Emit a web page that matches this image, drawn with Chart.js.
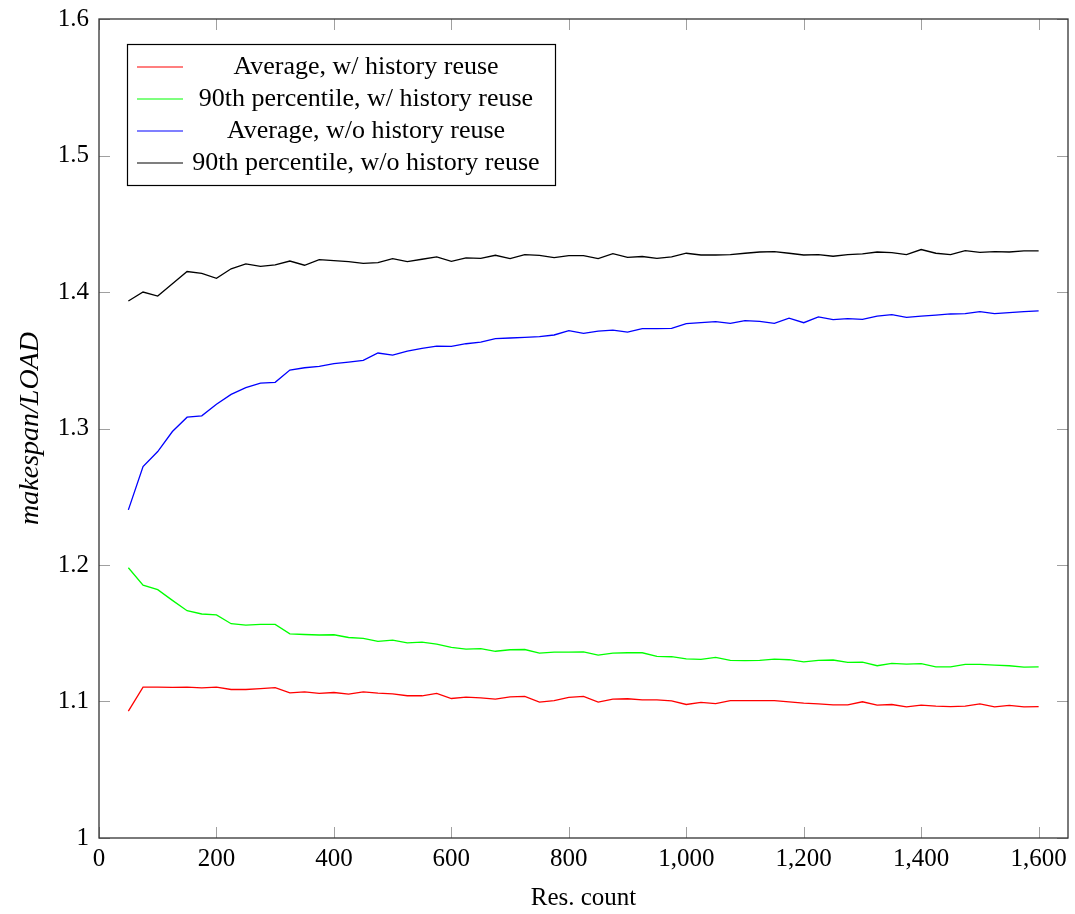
<!DOCTYPE html>
<html>
<head>
<meta charset="utf-8">
<script src="https://cdn.jsdelivr.net/npm/chart.js@4"></script>
<style>
  html, body { margin: 0; padding: 0; background: #fff; }
  #wrap { width: 1075px; height: 914px; }
</style>
</head>
<body>
<div id="wrap"><canvas id="chart" width="1075" height="914"></canvas></div>
<script>
// Res. count values (x)
const resCount = [50, 75, 100, 125, 150, 175, 200, 225, 250, 275, 300, 325, 350, 375, 400, 425, 450, 475, 500, 525, 550,
  575, 600, 625, 650, 675, 700, 725, 750, 775, 800, 825, 850, 875, 900, 925, 950, 975, 1000, 1025, 1050, 1075,
  1100, 1125, 1150, 1175, 1200, 1225, 1250, 1275, 1300, 1325, 1350, 1375, 1400, 1425, 1450, 1475, 1500, 1525, 1550, 1575, 1600];

const avgWithReuse = [1.0930, 1.1105, 1.1105, 1.1103, 1.1105, 1.1100, 1.1105, 1.1088, 1.1088, 1.1095, 1.1102, 1.1063, 1.1071, 1.1059, 1.1066, 1.1054, 1.1071, 1.1061, 1.1056, 1.1042, 1.1042,
  1.1059, 1.1022, 1.1032, 1.1027, 1.1017, 1.1034, 1.1037, 1.0995, 1.1007, 1.1030, 1.1037, 1.0995, 1.1017, 1.1020, 1.1012, 1.1012, 1.1005, 1.0978, 1.0993, 1.0985, 1.1007,
  1.1007, 1.1007, 1.1007, 1.0998, 1.0988, 1.0983, 1.0976, 1.0976, 1.0998, 1.0973, 1.0978, 1.0961, 1.0973, 1.0966, 1.0963, 1.0966, 1.0983, 1.0961, 1.0971, 1.0961, 1.0963];

const p90WithReuse = [1.1980, 1.1853, 1.1819, 1.1741, 1.1665, 1.1641, 1.1634, 1.1570, 1.1560, 1.1565, 1.1565, 1.1496, 1.1491, 1.1487, 1.1489, 1.1469, 1.1462, 1.1440, 1.1450, 1.1430, 1.1435,
  1.1421, 1.1396, 1.1384, 1.1387, 1.1368, 1.1379, 1.1381, 1.1355, 1.1362, 1.1362, 1.1364, 1.1340, 1.1355, 1.1357, 1.1357, 1.1330, 1.1328, 1.1313, 1.1308, 1.1323, 1.1301,
  1.1299, 1.1301, 1.1311, 1.1306, 1.1291, 1.1301, 1.1304, 1.1286, 1.1289, 1.1262, 1.1279, 1.1274, 1.1277, 1.1254, 1.1254, 1.1272, 1.1272, 1.1267, 1.1262, 1.1252, 1.1254];

const avgNoReuse = [1.2404, 1.2721, 1.2831, 1.2978, 1.3083, 1.3093, 1.3178, 1.3250, 1.3299, 1.3333, 1.3338, 1.3428, 1.3445, 1.3455, 1.3475, 1.3487, 1.3499, 1.3553, 1.3538, 1.3567, 1.3587,
  1.3604, 1.3602, 1.3621, 1.3633, 1.3658, 1.3663, 1.3667, 1.3673, 1.3685, 1.3717, 1.3697, 1.3714, 1.3721, 1.3706, 1.3731, 1.3731, 1.3733, 1.3768, 1.3775, 1.3783, 1.3770,
  1.3790, 1.3785, 1.3770, 1.3809, 1.3775, 1.3817, 1.3797, 1.3805, 1.3800, 1.3824, 1.3834, 1.3814, 1.3824, 1.3831, 1.3839, 1.3841, 1.3856, 1.3841, 1.3849, 1.3856, 1.3861];

const p90NoReuse = [1.3934, 1.4000, 1.3970, 1.4060, 1.4150, 1.4137, 1.4100, 1.4170, 1.4206, 1.4188, 1.4198, 1.4227, 1.4196, 1.4237, 1.4230, 1.4222, 1.4210, 1.4215, 1.4245, 1.4222, 1.4240,
  1.4257, 1.4225, 1.4250, 1.4247, 1.4269, 1.4245, 1.4274, 1.4269, 1.4252, 1.4267, 1.4267, 1.4245, 1.4281, 1.4254, 1.4260, 1.4247, 1.4257, 1.4284, 1.4271, 1.4271, 1.4274,
  1.4284, 1.4293, 1.4296, 1.4284, 1.4271, 1.4274, 1.4262, 1.4274, 1.4279, 1.4293, 1.4289, 1.4274, 1.4311, 1.4284, 1.4274, 1.4303, 1.4291, 1.4296, 1.4293, 1.4301, 1.4301];

const seriesNames = ['Average, w/ history reuse', '90th percentile, w/ history reuse',
  'Average, w/o history reuse', '90th percentile, w/o history reuse'];
const seriesColors = ['#ff0000', '#00ff00', '#0000ff', '#000000'];

const xTicks = [0, 200, 400, 600, 800, 1000, 1200, 1400, 1600];
const yTicks = [1, 1.1, 1.2, 1.3, 1.4, 1.5, 1.6];

const FONT = "'Liberation Serif', 'Times New Roman', serif";

function toPoints(ys) {
  return resCount.map((x, i) => ({ x: x, y: ys[i] }));
}

const allSeries = [avgWithReuse, p90WithReuse, avgNoReuse, p90NoReuse];

// frame, inward ticks and the pgfplots-like legend
const framePlugin = {
  id: 'frame',
  afterDraw(chart) {
    const ctx = chart.ctx;
    const a = chart.chartArea;
    const xs = chart.scales.x, ys = chart.scales.y;
    const tl = 11;
    ctx.save();
    ctx.strokeStyle = '#a0a0a0';
    ctx.lineWidth = 1;
    ctx.beginPath();
    xTicks.forEach(v => {
      const px = Math.round(xs.getPixelForValue(v)) + 0.5;
      ctx.moveTo(px, a.bottom); ctx.lineTo(px, a.bottom - tl);
      ctx.moveTo(px, a.top); ctx.lineTo(px, a.top + tl);
    });
    yTicks.forEach(v => {
      const py = Math.round(ys.getPixelForValue(v)) + 0.5;
      ctx.moveTo(a.left, py); ctx.lineTo(a.left + tl, py);
      ctx.moveTo(a.right, py); ctx.lineTo(a.right - tl, py);
    });
    ctx.stroke();
    ctx.strokeStyle = '#333';
    ctx.lineWidth = 1.3;
    ctx.strokeRect(a.left, a.top, a.right - a.left, a.bottom - a.top);

    // legend
    const bx = 127, by = 44, bw = 428, bh = 141;
    ctx.fillStyle = '#fff';
    ctx.fillRect(bx, by, bw, bh);
    ctx.strokeStyle = '#000';
    ctx.lineWidth = 1.2;
    ctx.strokeRect(bx + 0.5, by + 0.5, bw, bh);
    ctx.font = '26px ' + FONT;
    ctx.textAlign = 'center';
    ctx.textBaseline = 'middle';
    seriesNames.forEach((name, i) => {
      const ry = 67 + i * 32;
      ctx.strokeStyle = seriesColors[i];
      ctx.lineWidth = 1.2;
      ctx.beginPath();
      ctx.moveTo(137, ry);
      ctx.lineTo(183, ry);
      ctx.stroke();
      ctx.fillStyle = '#000';
      ctx.fillText(name, 366, ry);
    });
    ctx.restore();
  }
};

new Chart(document.getElementById('chart'), {
  type: 'line',
  data: {
    datasets: allSeries.map((ys, i) => ({
      label: seriesNames[i],
      data: toPoints(ys),
      borderColor: seriesColors[i],
      backgroundColor: seriesColors[i],
      borderWidth: 1.3,
      pointRadius: 0,
      tension: 0,
      fill: false
    }))
  },
  options: {
    responsive: false,
    animation: false,
    layout: { padding: { left: 0, top: 19, right: 7, bottom: 0 } },
    plugins: {
      legend: { display: false },
      tooltip: { enabled: false }
    },
    scales: {
      x: {
        type: 'linear',
        min: 0,
        max: 1650,
        afterBuildTicks: s => { s.ticks = xTicks.map(v => ({ value: v })); },
        afterFit: s => { s.height = 76; s.paddingLeft = 0; s.paddingRight = 0; },
        grid: { display: false, drawTicks: false },
        border: { display: false },
        ticks: {
          color: '#000',
          font: { family: FONT, size: 25 },
          padding: 6,
          maxRotation: 0,
          callback: v => v.toLocaleString('en-US')
        },
        title: {
          display: true,
          text: 'Res. count',
          color: '#000',
          font: { family: FONT, size: 25 },
          padding: { top: 0, bottom: 1 }
        }
      },
      y: {
        type: 'linear',
        min: 1,
        max: 1.6,
        afterBuildTicks: s => { s.ticks = yTicks.map(v => ({ value: v })); },
        afterFit: s => { s.width = 99; s.paddingTop = 0; s.paddingBottom = 0; },
        grid: { display: false, drawTicks: false },
        border: { display: false },
        ticks: {
          color: '#000',
          font: { family: FONT, size: 25 },
          padding: 10,
          callback: v => String(+v.toFixed(1))
        },
        title: {
          display: true,
          text: 'makespan/LOAD',
          color: '#000',
          font: { family: FONT, size: 28, style: 'italic' },
          padding: { top: 14, bottom: 0 }
        }
      }
    }
  },
  plugins: [framePlugin]
});
</script>
</body>
</html>
